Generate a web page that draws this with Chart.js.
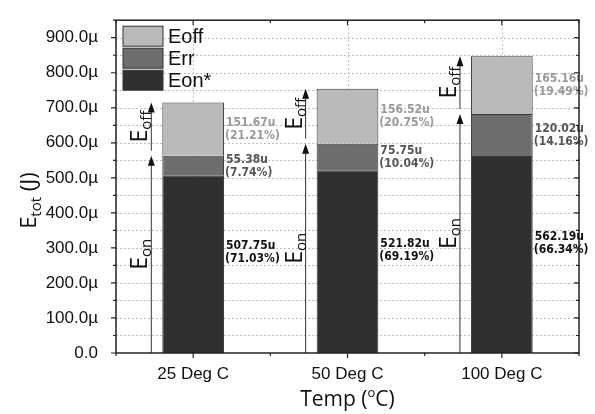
<!DOCTYPE html>
<html>
<head>
<meta charset="utf-8">
<script src="https://cdn.jsdelivr.net/npm/chart.js@4.4.0/dist/chart.umd.min.js"></script>
<style>
  html, body { margin: 0; padding: 0; background: #fff; }
  #wrap { width: 595px; height: 414px; }
</style>
</head>
<body>
<div id="wrap"><canvas id="chart" width="595" height="414"></canvas></div>
<script>
// values in microjoules
const categories = ['25 Deg C', '50 Deg C', '100 Deg C'];
const eonValues = [507.75, 521.82, 562.19];
const errValues = [55.38, 75.75, 120.02];
const eoffValues = [151.67, 156.52, 165.16];
const eonPct = [71.03, 69.19, 66.34];
const errPct = [7.74, 10.04, 14.16];
const eoffPct = [21.21, 20.75, 19.49];
const yMin = 0;
const yMax = 950;
const yStep = 50;

const TICK_FONT = "'Liberation Sans', Arial, sans-serif";
const TITLE_FONT = "'Open Sans', 'DejaVu Sans', sans-serif";
const LABEL_FONT = "'DejaVu Sans Condensed', 'DejaVu Sans', sans-serif";

// draw text made of pieces (normal / subscript / superscript), centred on x
function richText(ctx, parts, x, y) {
  let total = 0;
  parts.forEach(p => {
    ctx.font = p.size + 'px ' + TITLE_FONT;
    p.w = ctx.measureText(p.t).width;
    total += p.w;
  });
  let cx = x - total / 2;
  ctx.textAlign = 'left';
  ctx.textBaseline = 'alphabetic';
  parts.forEach(p => {
    ctx.font = p.size + 'px ' + TITLE_FONT;
    ctx.fillText(p.t, cx, y + (p.dy || 0));
    cx += p.w;
  });
}

function arrow(ctx, x, yFrom, yTo) {
  ctx.save();
  ctx.strokeStyle = '#333';
  ctx.fillStyle = '#111';
  ctx.lineWidth = 1;
  ctx.beginPath();
  ctx.moveTo(x, yFrom);
  ctx.lineTo(x, yTo + 8);
  ctx.stroke();
  ctx.beginPath();
  ctx.moveTo(x, yTo);
  ctx.lineTo(x - 3.5, yTo + 10);
  ctx.lineTo(x + 3.5, yTo + 10);
  ctx.closePath();
  ctx.fill();
  ctx.restore();
}

const decorations = {
  id: 'decorations',
  beforeDatasetsDraw(chart) {
    // dashed grid: every 50 on y, category centres on x
    const ctx = chart.ctx;
    const a = chart.chartArea;
    const y = chart.scales.y;
    const x = chart.scales.x;
    ctx.save();
    ctx.strokeStyle = '#bdbdbd';
    ctx.lineWidth = 1;
    ctx.setLineDash([2, 2]);
    ctx.beginPath();
    for (let v = yMin + yStep; v < yMax; v += yStep) {
      const py = Math.round(y.getPixelForValue(v)) + 0.5;
      ctx.moveTo(a.left, py); ctx.lineTo(a.right, py);
    }
    categories.forEach((c, i) => {
      const px = Math.round(x.getPixelForValue(i)) + 0.5;
      ctx.moveTo(px, a.top); ctx.lineTo(px, a.bottom);
    });
    ctx.stroke();
    ctx.restore();
  },
  afterDatasetsDraw(chart) {
    const ctx = chart.ctx;
    const y = chart.scales.y;
    const meta = chart.getDatasetMeta(0);
    ctx.save();
    categories.forEach((c, i) => {
      const bar = meta.data[i];
      const left = bar.x - bar.width / 2;
      const right = bar.x + bar.width / 2;
      const ax = left - 11;
      const yOnTop = y.getPixelForValue(eonValues[i] + errValues[i]);
      const yTop = y.getPixelForValue(eonValues[i] + errValues[i] + eoffValues[i]);
      const y0 = y.getPixelForValue(0);
      arrow(ctx, ax, y0, yOnTop);
      arrow(ctx, ax, yOnTop - 5, yTop);

      // E_on / E_off labels, rotated
      ctx.save();
      ctx.fillStyle = '#111';
      ctx.translate(ax - 4, (y0 + yOnTop) / 2);
      ctx.rotate(-Math.PI / 2);
      richText(ctx, [{ t: 'E', size: 23 }, { t: 'on', size: 15, dy: 4 }], 0, 0);
      ctx.restore();
      ctx.save();
      ctx.fillStyle = '#111';
      ctx.translate(ax - 4, (yOnTop - 5 + yTop) / 2);
      ctx.rotate(-Math.PI / 2);
      richText(ctx, [{ t: 'E', size: 23 }, { t: 'off', size: 15, dy: 4 }], 0, 0);
      ctx.restore();

      // value labels
      const segs = [
        { v: eonValues[i], p: eonPct[i], lo: 0, hi: eonValues[i], col: '#111', shift: -12 },
        { v: errValues[i], p: errPct[i], lo: eonValues[i], hi: eonValues[i] + errValues[i], col: '#555', shift: 0 },
        { v: eoffValues[i], p: eoffPct[i], lo: eonValues[i] + errValues[i], hi: eonValues[i] + errValues[i] + eoffValues[i], col: '#999', shift: 0 }
      ];
      ctx.font = 'bold 12px ' + LABEL_FONT;
      ctx.textAlign = 'left';
      ctx.textBaseline = 'middle';
      segs.forEach(s => {
        const mid = (y.getPixelForValue(s.lo) + y.getPixelForValue(s.hi)) / 2 + s.shift;
        ctx.fillStyle = s.col;
        ctx.fillText(s.v.toFixed(2) + 'u', right + 2, mid - 6);
        ctx.fillText('(' + s.p.toFixed(2) + '%)', right + 1, mid + 7);
      });
    });
    ctx.restore();
  },
  afterDraw(chart) {
    const ctx = chart.ctx;
    const a = chart.chartArea;
    const y = chart.scales.y;
    const x = chart.scales.x;
    ctx.save();
    ctx.strokeStyle = '#222';
    ctx.lineWidth = 1.5;
    ctx.strokeRect(a.left, a.top, a.right - a.left, a.bottom - a.top);

    // y ticks: outward on left, inward on right
    ctx.lineWidth = 1.2;
    ctx.beginPath();
    for (let v = yMin; v <= yMax; v += yStep) {
      const py = y.getPixelForValue(v);
      const len = v % 100 === 0 ? 5 : 3;
      ctx.moveTo(a.left - len, py); ctx.lineTo(a.left, py);
      ctx.moveTo(a.right - len, py); ctx.lineTo(a.right, py);
    }
    // x ticks: major at categories, minor at boundaries
    const step = (a.right - a.left) / categories.length;
    categories.forEach((c, i) => {
      const px = x.getPixelForValue(i);
      ctx.moveTo(px, a.bottom); ctx.lineTo(px, a.bottom + 5);
      ctx.moveTo(px, a.top); ctx.lineTo(px, a.top + 5);
    });
    for (let i = 0; i <= categories.length; i++) {
      const px = a.left + step * i;
      ctx.moveTo(px, a.bottom); ctx.lineTo(px, a.bottom + 3);
      ctx.moveTo(px, a.top); ctx.lineTo(px, a.top + 3);
    }
    ctx.stroke();

    // legend (top to bottom: Eoff, Err, Eon*)
    const ds = chart.data.datasets.slice().reverse();
    ds.forEach((d, k) => {
      const by = a.top + 6 + k * 22;
      ctx.fillStyle = d.backgroundColor;
      ctx.fillRect(a.left + 7, by, 40, 20);
      ctx.strokeStyle = '#333';
      ctx.lineWidth = 1;
      ctx.strokeRect(a.left + 7, by, 40, 20);
      ctx.fillStyle = '#111';
      ctx.font = '20px ' + TICK_FONT;
      ctx.textAlign = 'left';
      ctx.textBaseline = 'middle';
      ctx.fillText(d.label, a.left + 52, by + 11);
    });

    // axis titles
    ctx.fillStyle = '#111';
    ctx.save();
    ctx.translate(36, (a.top + a.bottom) / 2 + 14);
    ctx.rotate(-Math.PI / 2);
    richText(ctx, [{ t: 'E', size: 22 }, { t: 'tot', size: 15, dy: 5 }, { t: ' (J)', size: 22 }], 0, 0);
    ctx.restore();
    richText(ctx, [{ t: 'Temp (', size: 21 }, { t: 'o', size: 13, dy: -9 }, { t: 'C)', size: 21 }], (a.left + a.right) / 2, 406);
    ctx.restore();
  }
};

const ctx = document.getElementById('chart').getContext('2d');
new Chart(ctx, {
  type: 'bar',
  data: {
    labels: categories,
    datasets: [
      { label: 'Eon*', data: eonValues, backgroundColor: '#303030', borderColor: '#3a3a3a', borderWidth: 1 },
      { label: 'Err', data: errValues, backgroundColor: '#6e6e6e', borderColor: '#3a3a3a', borderWidth: 1 },
      { label: 'Eoff', data: eoffValues, backgroundColor: '#bababa', borderColor: '#3a3a3a', borderWidth: 1 }
    ]
  },
  options: {
    responsive: false,
    animation: false,
    layout: { padding: { top: 7, right: 16, left: 0, bottom: 0 } },
    categoryPercentage: 1,
    barPercentage: 0.4,
    plugins: {
      legend: { display: false },
      tooltip: { enabled: false }
    },
    scales: {
      x: {
        stacked: true,
        afterFit: s => { s.height = 61; },
        grid: { display: false },
        border: { display: false },
        ticks: { color: '#111', padding: 3, font: { size: 17, family: TICK_FONT } }
      },
      y: {
        stacked: true,
        min: yMin,
        max: yMax,
        afterFit: s => { s.width = 116; },
        grid: { display: false },
        border: { display: false },
        ticks: {
          stepSize: yStep,
          autoSkip: false,
          padding: 10,
          color: '#111',
          font: { size: 17, family: TICK_FONT },
          callback: v => v === 0 ? '0.0' : (v % 100 === 0 ? v.toFixed(1) + 'µ' : '')
        }
      }
    }
  },
  plugins: [decorations]
});
</script>
</body>
</html>
